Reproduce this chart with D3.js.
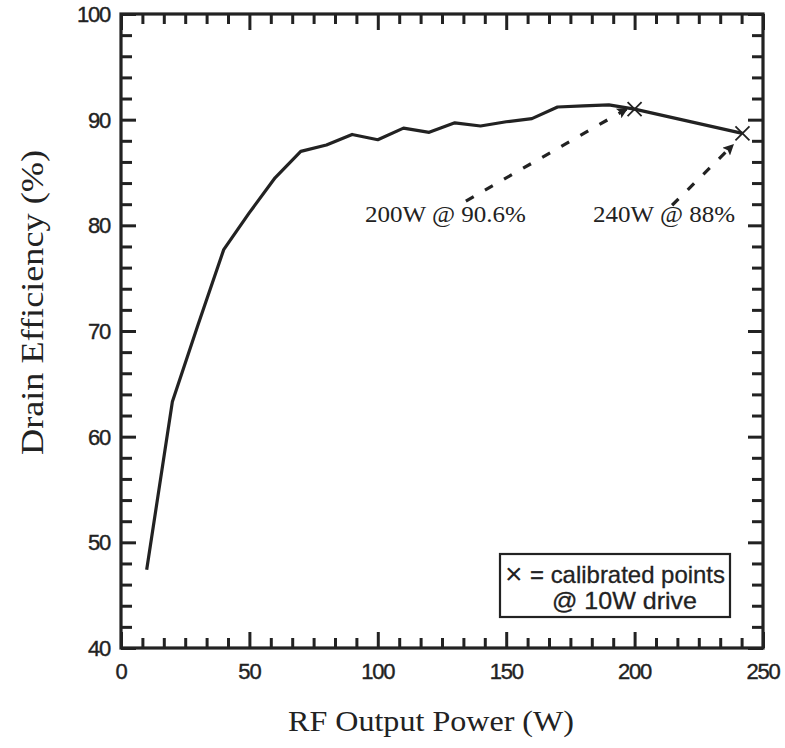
<!DOCTYPE html>
<html>
<head>
<meta charset="utf-8">
<script src="https://cdn.jsdelivr.net/npm/d3@7"></script>
<style>
  html, body { margin: 0; padding: 0; background: #fff; }
  svg { display: block; }
</style>
</head>
<body>
<svg id="chart" width="785" height="748"></svg>
<script>
// ---- data ----
const outputPower = [10, 20, 30, 40, 50, 60, 70, 80, 90, 100, 110, 120, 130, 140, 150, 160, 170, 180, 190, 200, 242];
const drainEfficiency = [47.4, 63.3, 70.6, 77.7, 81.2, 84.5, 87.0, 87.6, 88.6, 88.1, 89.2, 88.8, 89.7, 89.4, 89.8, 90.1, 91.2, 91.3, 91.4, 91.0, 88.7];
const calibratedPower = [200, 242];
const calibratedEff = [91.0, 88.7];
const xTickLabels = [0, 50, 100, 150, 200, 250];
const yTickLabels = [40, 50, 60, 70, 80, 90, 100];
const annotationTexts = ["200W @ 90.6%", "240W @ 88%"];
const legendSymbol = "\u00D7";
const legendLines = ["= calibrated points", "@ 10W drive"];
const xTitle = "RF Output Power (W)";
const yTitle = "Drain Efficiency (%)";

// ---- layout ----
const pLeft = 121, pRight = 763, pTop = 14, pBottom = 648;
const ink = "#222";
const svg = d3.select("#chart");
const x = d3.scaleLinear().domain([0, 250]).range([pLeft, pRight]);
const y = d3.scaleLinear().domain([40, 100]).range([pBottom, pTop]);

// frame
svg.append("rect").attr("x", pLeft).attr("y", pTop)
  .attr("width", pRight - pLeft).attr("height", pBottom - pTop)
  .attr("fill", "none").attr("stroke", ink).attr("stroke-width", 3.2);

// axes with inward ticks
const xMinor = d3.range(0, 250.001, 50 / 6).filter(v => Math.abs(v % 50) > 0.01 && Math.abs(v % 50 - 50) > 0.01);
const yMinor = d3.range(40, 100.001, 2).filter(v => v % 10 !== 0);

function addAxis(axisFn, scale, vals, size, tx, ty) {
  const g = svg.append("g").attr("transform", `translate(${tx},${ty})`)
    .call(axisFn(scale).tickValues(vals).tickSize(size).tickFormat(""));
  g.select(".domain").remove();
  g.selectAll(".tick line").attr("stroke", ink).attr("stroke-width", 3);
  return g;
}
addAxis(d3.axisTop, x, xMinor, 10, 0, pBottom);
addAxis(d3.axisTop, x, xTickLabels, 16, 0, pBottom);
addAxis(d3.axisBottom, x, xMinor, 10, 0, pTop);
addAxis(d3.axisBottom, x, xTickLabels, 16, 0, pTop);
addAxis(d3.axisRight, y, yMinor, 11, pLeft, 0);
addAxis(d3.axisRight, y, yTickLabels, 15, pLeft, 0);
addAxis(d3.axisLeft, y, yMinor, 11, pRight, 0);
addAxis(d3.axisLeft, y, yTickLabels, 15, pRight, 0);

// tick labels
const tickFont = "'Liberation Sans', Arial, sans-serif";
svg.append("g").selectAll("text").data(xTickLabels).join("text")
  .attr("x", d => x(d)).attr("y", pBottom + 31)
  .attr("text-anchor", "middle")
  .attr("font-family", tickFont).attr("font-size", 22).attr("letter-spacing", -1.2)
  .attr("fill", ink).attr("stroke", ink).attr("stroke-width", 0.4).text(d => d);
svg.append("g").selectAll("text").data(yTickLabels).join("text")
  .attr("x", pLeft - 11).attr("y", d => y(d)).attr("dy", "0.36em")
  .attr("text-anchor", "end")
  .attr("font-family", tickFont).attr("font-size", 22).attr("letter-spacing", -1.2)
  .attr("fill", ink).attr("stroke", ink).attr("stroke-width", 0.4).text(d => d);

// axis titles
const serif = "'Liberation Serif', 'Times New Roman', serif";
svg.append("text").attr("x", 288).attr("y", 731)
  .attr("font-family", serif).attr("font-size", 30)
  .attr("textLength", 286).attr("lengthAdjust", "spacingAndGlyphs")
  .attr("fill", ink).text(xTitle);
svg.append("text").attr("transform", "translate(43,455) rotate(-90)")
  .attr("font-family", serif).attr("font-size", 32)
  .attr("textLength", 305).attr("lengthAdjust", "spacingAndGlyphs")
  .attr("fill", ink).text(yTitle);

// data line
const pts = outputPower.map((p, i) => [p, drainEfficiency[i]]);
svg.append("path").datum(pts)
  .attr("d", d3.line().x(d => x(d[0])).y(d => y(d[1])))
  .attr("fill", "none").attr("stroke", ink).attr("stroke-width", 3.2)
  .attr("stroke-linejoin", "round");

// calibrated markers
svg.append("g").selectAll("path").data(calibratedPower.map((p, i) => [p, calibratedEff[i]])).join("path")
  .attr("d", d => {
    const cx = x(d[0]), cy = y(d[1]), s = 7;
    return `M${cx - s},${cy - s}L${cx + s},${cy + s}M${cx - s},${cy + s}L${cx + s},${cy - s}`;
  })
  .attr("stroke", ink).attr("stroke-width", 1.8).attr("fill", "none");

// arrow marker
svg.append("defs").append("marker")
  .attr("id", "ah").attr("viewBox", "0 0 10 10").attr("refX", 10).attr("refY", 5)
  .attr("markerWidth", 14).attr("markerHeight", 11).attr("markerUnits", "userSpaceOnUse")
  .attr("orient", "auto")
  .append("path").attr("d", "M0,0L10,5L0,10L2,5Z").attr("fill", ink);

// annotations (data-space anchors)
const annStart = [[134.3, 82.3], [214.6, 81.9]];
const annTip = [[197.5, 91.1], [238.7, 87.7]];
annStart.forEach((s, i) => {
  svg.append("line")
    .attr("x1", x(s[0])).attr("y1", y(s[1]))
    .attr("x2", x(annTip[i][0])).attr("y2", y(annTip[i][1]))
    .attr("stroke", ink).attr("stroke-width", 3.2)
    .attr("stroke-dasharray", "9,13")
    .attr("marker-end", "url(#ah)");
});
const annTextPos = [[95, 80.3, 161], [183.8, 80.3, 142]];
svg.append("g").selectAll("text").data(annotationTexts).join("text")
  .attr("x", (d, i) => x(annTextPos[i][0])).attr("y", (d, i) => y(annTextPos[i][1]))
  .attr("font-family", serif).attr("font-size", 24)
  .attr("textLength", (d, i) => annTextPos[i][2]).attr("lengthAdjust", "spacingAndGlyphs")
  .attr("fill", ink).text(d => d);

// legend box
svg.append("rect").attr("x", 500).attr("y", 554).attr("width", 230).attr("height", 63)
  .attr("fill", "#fff").attr("stroke", ink).attr("stroke-width", 2.2);
svg.append("text").attr("x", 505).attr("y", 584)
  .attr("font-family", tickFont).attr("font-size", 30).attr("font-weight", 300)
  .attr("fill", ink).text(legendSymbol);
svg.append("text").attr("x", 530).attr("y", 583)
  .attr("font-family", tickFont).attr("font-size", 24)
  .attr("textLength", 195).attr("lengthAdjust", "spacingAndGlyphs")
  .attr("fill", ink).attr("stroke", ink).attr("stroke-width", 0.3).text(legendLines[0]);
svg.append("text").attr("x", 552).attr("y", 609)
  .attr("font-family", tickFont).attr("font-size", 24)
  .attr("textLength", 145).attr("lengthAdjust", "spacingAndGlyphs")
  .attr("fill", ink).attr("stroke", ink).attr("stroke-width", 0.3).text(legendLines[1]);
</script>
</body>
</html>
